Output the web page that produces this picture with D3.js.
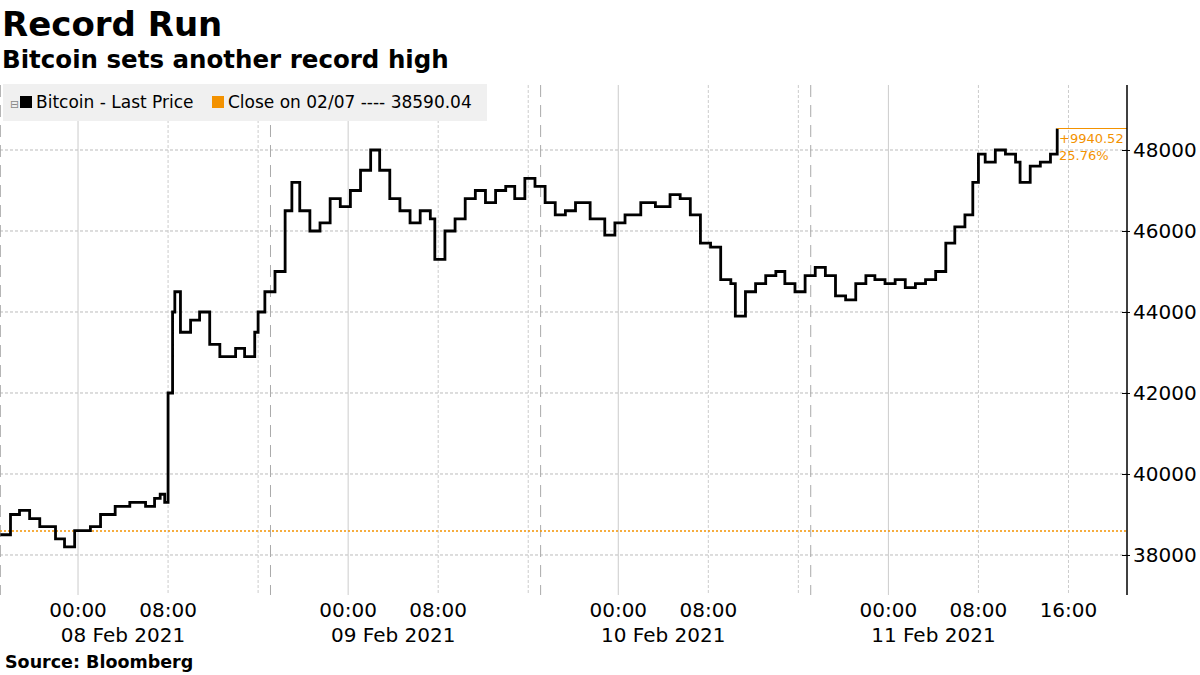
<!DOCTYPE html>
<html><head><meta charset="utf-8">
<script src="https://cdn.jsdelivr.net/npm/d3@7"></script>
<style>body{margin:0;background:#fff}text{font-family:"DejaVu Sans",sans-serif}</style>
</head><body><svg id="c" width="1200" height="675"></svg>
<script>
// hours from 08 Feb 2021 00:00, price
var hours=[-6.9,-6.0,-5.2,-4.3,-3.4,-2.0,-1.2,-0.3,1.1,2.0,3.3,4.6,6.0,6.8,7.3,7.7,8.0,8.4,8.6,9.1,10.0,10.8,11.7,12.6,14.0,14.8,15.7,16.0,16.6,17.5,18.4,19.0,19.7,20.6,21.5,22.4,23.3,24.2,25.1,26.0,26.8,27.7,28.6,29.5,30.4,31.3,31.7,32.6,33.5,34.4,35.3,36.2,37.1,38.0,38.8,39.7,40.6,41.5,42.4,43.3,44.2,45.5,46.8,47.7,48.6,50.0,51.3,52.6,53.5,54.4,55.3,56.2,57.1,58.0,58.4,59.3,60.2,61.1,62.0,62.8,63.7,64.6,65.5,66.4,67.3,68.2,69.1,70.0,70.8,71.7,72.6,73.5,74.4,75.3,76.2,77.1,77.9,78.8,79.5,80.0,80.6,81.5,82.4,83.3,83.7,84.6,85.5,86.4,87.0];
var prices=[38500,39000,39100,38900,38700,38400,38200,38600,38700,39000,39200,39300,39200,39400,39500,39300,42000,44000,44500,43500,43800,44000,43200,42900,43100,42900,43500,44000,44500,45000,46500,47200,46500,46000,46200,46800,46600,47000,47500,48000,47500,46800,46500,46200,46500,46300,45300,46000,46300,46800,47000,46700,47000,47100,46800,47300,47100,46700,46400,46500,46700,46300,45900,46200,46400,46700,46600,46900,46800,46400,45700,45600,44800,44700,43900,44500,44700,44900,45000,44700,44500,44900,45100,44900,44400,44300,44700,44900,44800,44700,44800,44600,44700,44800,45000,45700,46100,46400,47200,47900,47700,48000,47900,47700,47200,47600,47700,47900,48530.56];
var closePrev=38590.04;
var yTicks=[38000,40000,42000,44000,46000,48000];
var xTicks=[0,8,16,24,32,40,48,56,64,72,80,88];
var tickLabels={0:"00:00",8:"08:00",24:"00:00",32:"08:00",48:"00:00",56:"08:00",72:"00:00",80:"08:00",88:"16:00"};
var dateLabels=[[4,"08 Feb 2021"],[28,"09 Feb 2021"],[52,"10 Feb 2021"],[76,"11 Feb 2021"]];
var separators=[-6.9,17.1,41.1,65.1];

var svg=d3.select("#c");
var x=d3.scaleLinear().domain([-6.933,93.2]).range([0,1127]);
var y=d3.scaleLinear().domain([37012,49605]).range([595,85]);

svg.append("text").attr("x",2).attr("y",36).attr("font-size",34).attr("font-weight","bold").text("Record Run");
svg.append("text").attr("x",2).attr("y",68).attr("font-size",24.5).attr("font-weight","bold").text("Bitcoin sets another record high");

var g=svg.append("g");
g.selectAll(".hg").data(yTicks).enter().append("line")
 .attr("x1",0).attr("x2",1127).attr("y1",y).attr("y2",y)
 .attr("stroke","#bbb").attr("stroke-dasharray","3,2");
g.selectAll(".vg").data(xTicks).enter().append("line")
 .attr("x1",x).attr("x2",x).attr("y1",85).attr("y2",595)
 .attr("stroke","#ccc").attr("stroke-dasharray",function(d){return d%24==0?null:"3,2";});
g.selectAll(".sep").data(separators).enter().append("line")
 .attr("x1",x).attr("x2",x).attr("y1",85).attr("y2",595)
 .attr("stroke","#aaa").attr("stroke-dasharray","12,8");

// legend
svg.append("rect").attr("x",3).attr("y",84).attr("width",484).attr("height",37).attr("fill","#f0f0f0");
svg.append("rect").attr("x",20).attr("y",96).attr("width",12).attr("height",12).attr("fill","#000");
svg.append("text").attr("x",10).attr("y",108).attr("font-size",11).attr("fill","#888").text("⊟");
svg.append("text").attr("x",36).attr("y",108).attr("font-size",17).text("Bitcoin - Last Price");
svg.append("rect").attr("x",212).attr("y",96).attr("width",12).attr("height",12).attr("fill","#f39200");
svg.append("text").attr("x",228).attr("y",108).attr("font-size",17).text("Close on 02/07 ---- 38590.04");

// previous close
svg.append("line").attr("x1",0).attr("x2",1127).attr("y1",y(closePrev)).attr("y2",y(closePrev))
 .attr("stroke","#f39200").attr("stroke-width",1.5).attr("stroke-dasharray","2,2");

var line=d3.line().x(function(d,i){return x(hours[i]);}).y(function(d){return y(d);}).curve(d3.curveStepAfter);
svg.append("path").datum(prices).attr("d",line).attr("fill","none").attr("stroke","#000").attr("stroke-width",2.8);

var last=prices[prices.length-1];
svg.append("line").attr("x1",x(hours[hours.length-1])).attr("x2",1127).attr("y1",y(last)).attr("y2",y(last)).attr("stroke","#f39200");
svg.append("text").attr("x",1059).attr("y",y(last)+14).attr("font-size",13).attr("fill","#f39200").text("+"+(last-closePrev).toFixed(2));
svg.append("text").attr("x",1059).attr("y",y(last)+31).attr("font-size",13).attr("fill","#f39200").text(((last-closePrev)/closePrev*100).toFixed(2)+"%");

// right axis
var ya=d3.axisRight(y).tickValues(yTicks).tickSize(5).tickFormat(d3.format("d"));
var ax=svg.append("g").attr("transform","translate(1127,0)").call(ya);
ax.select(".domain").remove();
ax.selectAll("text").attr("font-size",20).attr("x",6).attr("fill","#000");
ax.selectAll(".tick line").attr("x1",-5).attr("x2",3).attr("stroke","#000");
svg.append("line").attr("x1",1127).attr("x2",1127).attr("y1",85).attr("y2",595).attr("stroke","#000").attr("stroke-width",1.5);

// x labels
var xt=svg.append("g");
xt.selectAll("text").data(Object.keys(tickLabels)).enter().append("text")
 .attr("x",function(d){return x(+d);}).attr("y",617).attr("text-anchor","middle").attr("font-size",20).text(function(d){return tickLabels[d];});
svg.selectAll(".dl").data(dateLabels).enter().append("text")
 .attr("x",function(d){return x(d[0]);}).attr("y",642).attr("text-anchor","middle").attr("font-size",20).text(function(d){return d[1];});
svg.append("text").attr("x",5).attr("y",668).attr("font-size",17.5).attr("font-weight","bold").text("Source:  Bloomberg");
</script></body></html>
